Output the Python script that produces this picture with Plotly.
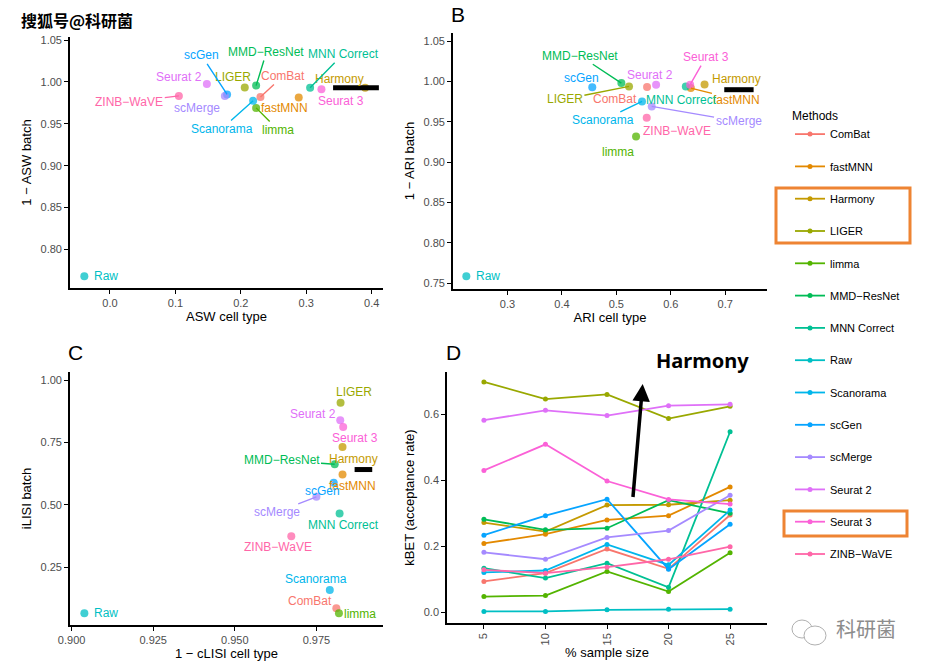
import plotly.graph_objects as go

# ---------------- data ----------------
methods = ["ComBat", "fastMNN", "Harmony", "LIGER", "limma", "MMD-ResNet", "MNN Correct",
           "Raw", "Scanorama", "scGen", "scMerge", "Seurat 2", "Seurat 3", "ZINB-WaVE"]
colors = ["#F8766D", "#E38900", "#C49A00", "#99A800", "#53B400", "#00BC56", "#00C094",
          "#00BFC4", "#00B6EB", "#06A4FF", "#A58AFF", "#DF70F8", "#FB61D7", "#FF66A8"]

asw_cell = [0.230, 0.2885, 0.390, 0.206, 0.2234, 0.2234, 0.3059, -0.0392, 0.2188, 0.179, 0.1756, 0.1481, 0.3232, 0.1053]
asw_batch = [0.982, 0.9813, 0.993, 0.9933, 0.969, 0.9956, 0.9929, 0.768, 0.9774, 0.985, 0.9833, 0.9976, 0.9913, 0.9833]

ari_cell = [0.5564, 0.6368, 0.662, 0.5233, 0.5362, 0.5092, 0.6276, 0.2245, 0.5472, 0.4558, 0.565, 0.573, 0.6356, 0.5558]
ari_batch = [0.993, 0.9917, 0.9963, 0.9938, 0.9318, 0.9979, 0.9938, 0.7583, 0.9752, 0.9926, 0.969, 0.9959, 0.9959, 0.955]

clisi_cell = [0.9811, 0.983, 0.983, 0.9824, 0.9819, 0.9806, 0.9821, 0.9039, 0.9791, 0.9803, 0.975, 0.9823, 0.9832, 0.9673]
ilisi_batch = [0.0842, 0.6217, 0.7326, 0.9104, 0.0642, 0.6631, 0.4652, 0.0642, 0.1578, 0.5882, 0.5321, 0.8396, 0.8128, 0.3743]

sample_sizes = ["5", "10", "15", "20", "25"]
kbet = {
    "ComBat":      [0.094, 0.119, 0.192, 0.132, 0.295],
    "fastMNN":     [0.209, 0.237, 0.280, 0.293, 0.380],
    "Harmony":     [0.272, 0.245, 0.325, 0.326, 0.340],
    "LIGER":       [0.698, 0.646, 0.660, 0.587, 0.624],
    "limma":       [0.048, 0.051, 0.124, 0.063, 0.181],
    "MMD-ResNet":  [0.282, 0.250, 0.255, 0.340, 0.300],
    "MNN Correct": [0.134, 0.104, 0.149, 0.076, 0.547],
    "Raw":         [0.003, 0.003, 0.008, 0.010, 0.010],
    "Scanorama":   [0.121, 0.127, 0.206, 0.144, 0.310],
    "scGen":       [0.234, 0.293, 0.343, 0.131, 0.267],
    "scMerge":     [0.182, 0.161, 0.227, 0.248, 0.355],
    "Seurat 2":    [0.582, 0.612, 0.596, 0.626, 0.630],
    "Seurat 3":    [0.430, 0.509, 0.398, 0.342, 0.328],
    "ZINB-WaVE":   [0.129, 0.119, 0.137, 0.161, 0.199],
}

# ---------------- label placement (layout, data units) ----------------
# method: (label_x, label_y, draw_segment)
labels_a = {
    "scGen": (0.140, 1.0317, True), "MMD-ResNet": (0.2392, 1.0357, True),
    "MNN Correct": (0.3562, 1.0329, True), "Seurat 2": (0.1053, 1.006, False),
    "LIGER": (0.1883, 1.006, False), "ComBat": (0.2646, 1.0071, True),
    "Harmony": (0.3511, 1.004, False), "ZINB-WaVE": (0.0295, 0.9762, True),
    "scMerge": (0.1323, 0.9694, False), "fastMNN": (0.2672, 0.9683, False),
    "Seurat 3": (0.3537, 0.9774, False), "Scanorama": (0.1705, 0.9437, True),
    "limma": (0.257, 0.9425, True), "Raw": (-0.028, 0.768, False),
}
labels_b = {
    "MMD-ResNet": (0.4331, 1.0318, True), "scGen": (0.4362, 1.0041, False),
    "Seurat 2": (0.562, 1.0083, False), "Seurat 3": (0.6644, 1.0302, True),
    "Harmony": (0.7215, 1.0033, False), "LIGER": (0.4055, 0.9781, True),
    "ComBat": (0.4975, 0.9781, False), "MNN Correct": (0.6202, 0.9773, False),
    "fastMNN": (0.7215, 0.9773, True), "Scanorama": (0.4748, 0.9517, True),
    "scMerge": (0.7245, 0.9504, True), "ZINB-WaVE": (0.611, 0.9388, False),
    "limma": (0.5037, 0.912, False), "Raw": (0.2387, 0.7583, False),
}
labels_c = {
    "LIGER": (0.9865, 0.9532, False), "Seurat 2": (0.974, 0.8663, False),
    "Seurat 3": (0.9869, 0.77, False), "Harmony": (0.9864, 0.6832, False),
    "MMD-ResNet": (0.9643, 0.6791, True), "fastMNN": (0.9862, 0.5762, False),
    "scGen": (0.977, 0.5548, False), "scMerge": (0.9628, 0.4693, True),
    "MNN Correct": (0.9832, 0.4184, False), "ZINB-WaVE": (0.9633, 0.3289, False),
    "Scanorama": (0.975, 0.2005, False), "ComBat": (0.973, 0.1136, False),
    "limma": (0.9885, 0.0602, False), "Raw": (0.9061, 0.0642, False),
}

W, H = 932, 669
def px(x):
    return x / W
def py(y):
    return 1 - y / H

FONT = "Liberation Sans, Arial, sans-serif"
fig = go.Figure()

def disp(name):
    return name.replace("-", "\u2212")

panels = [
    ("x", "y", asw_cell, asw_batch, labels_a),
    ("x2", "y2", ari_cell, ari_batch, labels_b),
    ("x3", "y3", clisi_cell, ilisi_batch, labels_c),
]
annotations = []
for xa, ya, xs, ys, labs in panels:
    for i, m in enumerate(methods):
        fig.add_trace(go.Scatter(
            x=[xs[i]], y=[ys[i]], mode="markers", xaxis=xa, yaxis=ya,
            marker=dict(color=colors[i], size=8, opacity=0.75),
            showlegend=False, hoverinfo="skip"))
        lx, ly, seg = labs[m]
        if seg:
            annotations.append(dict(
                x=xs[i], y=ys[i], xref=xa, yref=ya, ax=lx, ay=ly, axref=xa, ayref=ya,
                text=disp(m), showarrow=True, arrowhead=0, arrowwidth=1.4,
                arrowcolor=colors[i], standoff=0,
                font=dict(family=FONT, size=12, color=colors[i])))
        else:
            annotations.append(dict(
                x=lx, y=ly, xref=xa, yref=ya, text=disp(m), showarrow=False,
                xanchor="left" if m == "Raw" else "center", yanchor="middle",
                font=dict(family=FONT, size=12, color=colors[i])))

for i, m in enumerate(methods):
    fig.add_trace(go.Scatter(
        x=sample_sizes, y=kbet[m], mode="lines+markers", xaxis="x4", yaxis="y4",
        name=disp(m), legendgroup=m,
        line=dict(color=colors[i], width=1.8),
        marker=dict(color=colors[i], size=5)))

axis_common = dict(showline=True, linecolor="black", linewidth=1.6, ticks="outside",
                   ticklen=4, tickwidth=1.2, tickcolor="black", showgrid=False,
                   zeroline=False, automargin=False,
                   tickfont=dict(family=FONT, size=11, color="#4D4D4D"),
                   title_font=dict(family=FONT, size=13, color="black"))

fig.update_layout(
    width=W, height=H, margin=dict(l=0, r=0, t=0, b=0),
    plot_bgcolor="white", paper_bgcolor="white",
    font=dict(family=FONT),
    xaxis=dict(axis_common, domain=[px(70), px(383)], range=[-0.0611, 0.4173],
               tickvals=[0, 0.1, 0.2, 0.3, 0.4], tickformat=".1f", anchor="y",
               title=dict(text="ASW cell type", standoff=4)),
    yaxis=dict(axis_common, domain=[py(288), py(37)], range=[0.754, 1.0536],
               tickvals=[0.80, 0.85, 0.90, 0.95, 1.00, 1.05], tickformat=".2f", anchor="x",
               title=dict(text="1 \u2212 ASW batch", standoff=6)),
    xaxis2=dict(axis_common, domain=[px(453), px(767)], range=[0.2, 0.7767],
                tickvals=[0.3, 0.4, 0.5, 0.6, 0.7], tickformat=".1f", anchor="y2",
                title=dict(text="ARI cell type", standoff=4)),
    yaxis2=dict(axis_common, domain=[py(289), py(33)], range=[0.7426, 1.06],
                tickvals=[0.75, 0.80, 0.85, 0.90, 0.95, 1.00, 1.05], tickformat=".2f",
                anchor="x2", title=dict(text="1 \u2212 ARI batch", standoff=6)),
    xaxis3=dict(axis_common, domain=[px(70), px(383)], range=[0.8995, 0.9954],
                tickvals=[0.900, 0.925, 0.950, 0.975], tickformat=".3f", anchor="y3",
                title=dict(text="1 \u2212 cLISI cell type", standoff=4)),
    yaxis3=dict(axis_common, domain=[py(625), py(372)], range=[0.0174, 1.0334],
                tickvals=[0.25, 0.50, 0.75, 1.00], tickformat=".2f", anchor="x3",
                title=dict(text="iLISI batch", standoff=6)),
    xaxis4=dict(axis_common, domain=[px(447), px(767)], range=[-0.6, 4.6],
                type="category", tickangle=-90, anchor="y4",
                title=dict(text="% sample size", standoff=2)),
    yaxis4=dict(axis_common, domain=[py(623), py(372)], range=[-0.032, 0.728],
                tickvals=[0.0, 0.2, 0.4, 0.6], tickformat=".1f", anchor="x4",
                title=dict(text="kBET (acceptance rate)", standoff=6)),
    legend=dict(x=px(790), y=py(104), xanchor="left", yanchor="top",
                title=dict(text="Methods", font=dict(family=FONT, size=12, color="black")),
                font=dict(family=FONT, size=11, color="black"),
                tracegroupgap=13.3, bgcolor="rgba(0,0,0,0)", itemwidth=30),
)

# panel letters and watermarks / highlight annotations
def paper_text(x, y, text, size, color="black", family=FONT):
    return dict(x=px(x), y=py(y), xref="paper", yref="paper", text=text, showarrow=False,
                xanchor="center", yanchor="middle",
                font=dict(family=family, size=size, color=color))

annotations += [
    paper_text(458, 15, "B", 21),
    paper_text(75, 352, "C", 21),
    paper_text(453, 352, "D", 21),
    paper_text(702, 360, "<b>Harmony</b>", 20, family="Noto Sans, DejaVu Sans, sans-serif"),
    dict(x=2.58, y=0.692, xref="x4", yref="y4", ax=2.42, ay=0.345, axref="x4", ayref="y4",
         text="", showarrow=True, arrowhead=2, arrowsize=1.0, arrowwidth=3.5, arrowcolor="black"),
    paper_text(77, 20, "<b>搜狐号@科研菌</b>", 16, family="Noto Sans CJK SC"),
    paper_text(866, 628, "科研菌", 20, color="#8C8C8C", family="Noto Sans CJK SC"),
]
fig.update_layout(annotations=annotations)

shapes = [
    # black highlight bars
    dict(type="line", xref="x", yref="y", x0=0.341, x1=0.411, y0=0.993, y1=0.993,
         line=dict(color="black", width=5)),
    dict(type="line", xref="x2", yref="y2", x0=0.6982, x1=0.7521, y0=0.9897, y1=0.9897,
         line=dict(color="black", width=5)),
    dict(type="line", xref="x3", yref="y3", x0=0.9867, x1=0.9921, y0=0.6417, y1=0.6417,
         line=dict(color="black", width=5)),
    # orange highlight boxes on legend
    dict(type="rect", xref="paper", yref="paper", x0=px(776), x1=px(910), y0=py(243), y1=py(188),
         line=dict(color="#EE8433", width=3)),
    dict(type="rect", xref="paper", yref="paper", x0=px(784), x1=px(907), y0=py(536), y1=py(511),
         line=dict(color="#EE8433", width=3)),
    # wechat icon hint
    dict(type="circle", xref="paper", yref="paper", x0=px(792), x1=px(812), y0=py(638), y1=py(620),
         line=dict(color="#B0B0B0", width=1)),
    dict(type="circle", xref="paper", yref="paper", x0=px(804), x1=px(826), y0=py(645), y1=py(626),
         line=dict(color="#B0B0B0", width=1), fillcolor="white"),
]
fig.update_layout(shapes=shapes)

fig.write_html("out.html", post_script="document.body.style.margin='0';",
               config={"displayModeBar": False})
